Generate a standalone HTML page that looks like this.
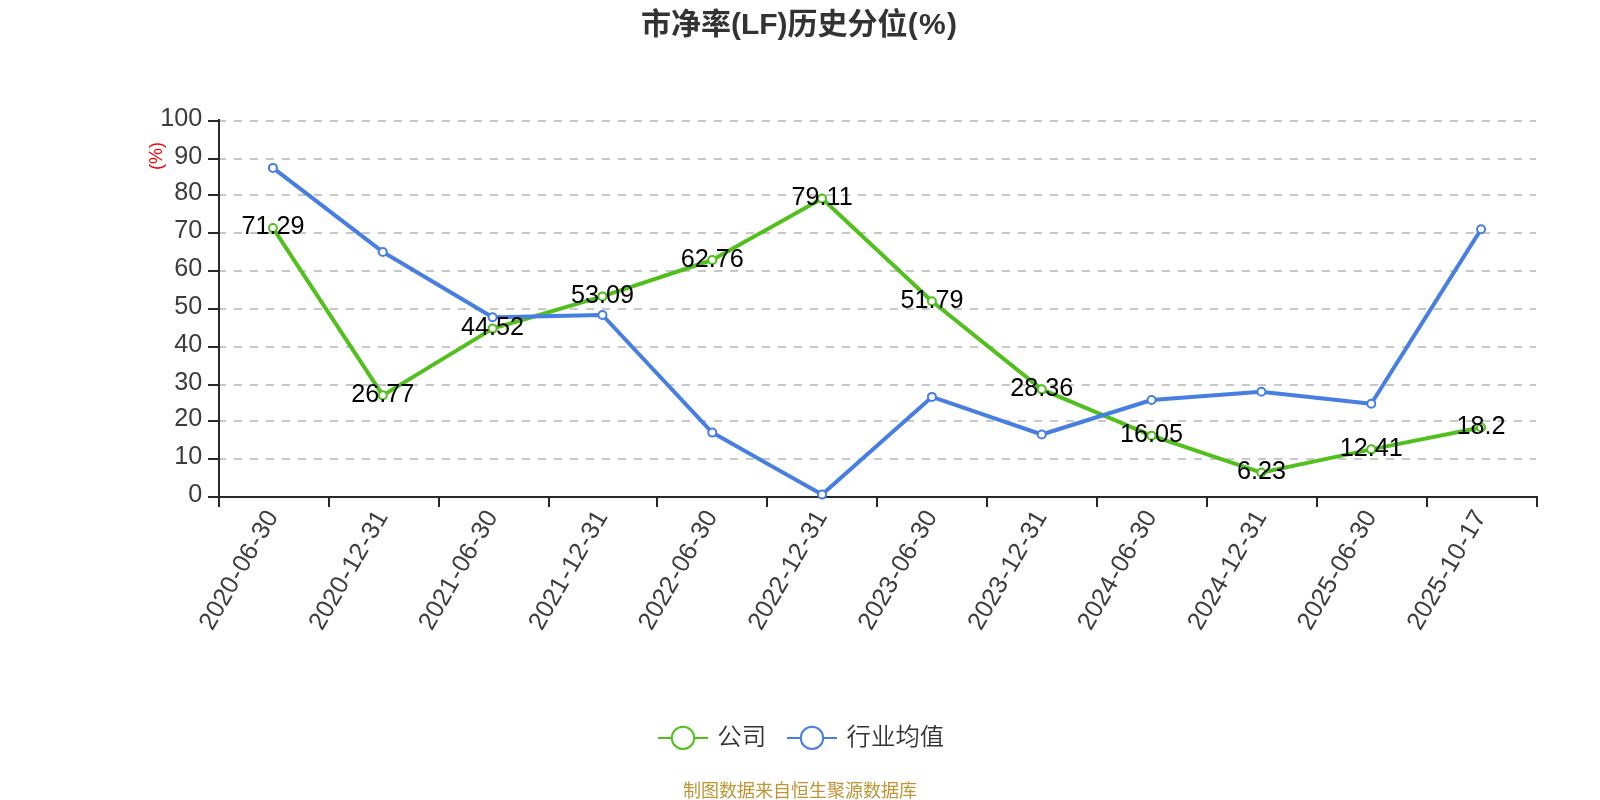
<!DOCTYPE html>
<html lang="zh-CN"><head><meta charset="utf-8"><title>市净率(LF)历史分位(%)</title>
<style>html,body{margin:0;padding:0;background:#fff;}body{width:1600px;height:800px;overflow:hidden;}svg{display:block;will-change:transform;}text{font-family:"Liberation Sans", "Noto Sans CJK SC", sans-serif;}</style></head><body>
<svg width="1600" height="800" viewBox="0 0 1600 800">
<rect x="0" y="0" width="1600" height="800" fill="#ffffff"/>
<text x="799.6" y="33.7" text-anchor="middle" font-size="30" font-weight="bold" fill="#333333">市净率(LF)历史分位<tspan letter-spacing="1.3">(%)</tspan></text>
<g stroke="#c8c8c8" stroke-width="2" stroke-dasharray="8 8" fill="none">
<line x1="218" y1="459" x2="1536" y2="459"/>
<line x1="218" y1="421" x2="1536" y2="421"/>
<line x1="218" y1="385" x2="1536" y2="385"/>
<line x1="218" y1="347" x2="1536" y2="347"/>
<line x1="218" y1="309" x2="1536" y2="309"/>
<line x1="218" y1="271" x2="1536" y2="271"/>
<line x1="218" y1="233" x2="1536" y2="233"/>
<line x1="218" y1="195" x2="1536" y2="195"/>
<line x1="218" y1="159" x2="1536" y2="159"/>
<line x1="218" y1="121" x2="1536" y2="121"/>
</g>
<g stroke="#282828" stroke-width="2" fill="none">
<line x1="219" y1="119" x2="219" y2="498"/>
<line x1="218" y1="497" x2="1538" y2="497"/>
<line x1="208" y1="121" x2="219" y2="121"/>
<line x1="208" y1="159" x2="219" y2="159"/>
<line x1="208" y1="195" x2="219" y2="195"/>
<line x1="208" y1="233" x2="219" y2="233"/>
<line x1="208" y1="271" x2="219" y2="271"/>
<line x1="208" y1="309" x2="219" y2="309"/>
<line x1="208" y1="347" x2="219" y2="347"/>
<line x1="208" y1="385" x2="219" y2="385"/>
<line x1="208" y1="421" x2="219" y2="421"/>
<line x1="208" y1="459" x2="219" y2="459"/>
<line x1="208" y1="497" x2="219" y2="497"/>
<line x1="219" y1="497" x2="219" y2="507"/>
<line x1="329" y1="497" x2="329" y2="507"/>
<line x1="439" y1="497" x2="439" y2="507"/>
<line x1="549" y1="497" x2="549" y2="507"/>
<line x1="657" y1="497" x2="657" y2="507"/>
<line x1="767" y1="497" x2="767" y2="507"/>
<line x1="877" y1="497" x2="877" y2="507"/>
<line x1="987" y1="497" x2="987" y2="507"/>
<line x1="1097" y1="497" x2="1097" y2="507"/>
<line x1="1207" y1="497" x2="1207" y2="507"/>
<line x1="1317" y1="497" x2="1317" y2="507"/>
<line x1="1427" y1="497" x2="1427" y2="507"/>
<line x1="1537" y1="497" x2="1537" y2="507"/>
</g>
<g font-size="25.2" fill="#3c3c3c" text-anchor="end">
<text x="202.3" y="126.0">100</text>
<text x="202.3" y="164.0">90</text>
<text x="202.3" y="200.0">80</text>
<text x="202.3" y="238.0">70</text>
<text x="202.3" y="276.0">60</text>
<text x="202.3" y="314.0">50</text>
<text x="202.3" y="352.0">40</text>
<text x="202.3" y="390.0">30</text>
<text x="202.3" y="426.0">20</text>
<text x="202.3" y="464.0">10</text>
<text x="202.3" y="502.0">0</text>
</g>
<text transform="translate(156,156) rotate(-90)" x="0" y="6.0" text-anchor="middle" font-size="18" fill="#ff0000">(%)</text>
<g font-size="25.2" fill="#3c3c3c" text-anchor="end">
<text transform="translate(272.92,513) rotate(-60)" x="0" y="6.6">2020<tspan dx="1.0">-</tspan><tspan dx="1.0">06</tspan><tspan dx="1.0">-</tspan><tspan dx="1.0">30</tspan></text>
<text transform="translate(382.75,513) rotate(-60)" x="0" y="6.6">2020<tspan dx="1.0">-</tspan><tspan dx="1.0">12</tspan><tspan dx="1.0">-</tspan><tspan dx="1.0">31</tspan></text>
<text transform="translate(492.58,513) rotate(-60)" x="0" y="6.6">2021<tspan dx="1.0">-</tspan><tspan dx="1.0">06</tspan><tspan dx="1.0">-</tspan><tspan dx="1.0">30</tspan></text>
<text transform="translate(602.42,513) rotate(-60)" x="0" y="6.6">2021<tspan dx="1.0">-</tspan><tspan dx="1.0">12</tspan><tspan dx="1.0">-</tspan><tspan dx="1.0">31</tspan></text>
<text transform="translate(712.25,513) rotate(-60)" x="0" y="6.6">2022<tspan dx="1.0">-</tspan><tspan dx="1.0">06</tspan><tspan dx="1.0">-</tspan><tspan dx="1.0">30</tspan></text>
<text transform="translate(822.08,513) rotate(-60)" x="0" y="6.6">2022<tspan dx="1.0">-</tspan><tspan dx="1.0">12</tspan><tspan dx="1.0">-</tspan><tspan dx="1.0">31</tspan></text>
<text transform="translate(931.92,513) rotate(-60)" x="0" y="6.6">2023<tspan dx="1.0">-</tspan><tspan dx="1.0">06</tspan><tspan dx="1.0">-</tspan><tspan dx="1.0">30</tspan></text>
<text transform="translate(1041.75,513) rotate(-60)" x="0" y="6.6">2023<tspan dx="1.0">-</tspan><tspan dx="1.0">12</tspan><tspan dx="1.0">-</tspan><tspan dx="1.0">31</tspan></text>
<text transform="translate(1151.58,513) rotate(-60)" x="0" y="6.6">2024<tspan dx="1.0">-</tspan><tspan dx="1.0">06</tspan><tspan dx="1.0">-</tspan><tspan dx="1.0">30</tspan></text>
<text transform="translate(1261.42,513) rotate(-60)" x="0" y="6.6">2024<tspan dx="1.0">-</tspan><tspan dx="1.0">12</tspan><tspan dx="1.0">-</tspan><tspan dx="1.0">31</tspan></text>
<text transform="translate(1371.25,513) rotate(-60)" x="0" y="6.6">2025<tspan dx="1.0">-</tspan><tspan dx="1.0">06</tspan><tspan dx="1.0">-</tspan><tspan dx="1.0">30</tspan></text>
<text transform="translate(1481.08,513) rotate(-60)" x="0" y="6.6">2025<tspan dx="1.0">-</tspan><tspan dx="1.0">10</tspan><tspan dx="1.0">-</tspan><tspan dx="1.0">17</tspan></text>
</g>
<polyline points="272.92,227.95 382.75,395.34 492.58,328.60 602.42,296.38 712.25,260.02 822.08,198.55 931.92,301.27 1041.75,389.37 1151.58,435.65 1261.42,472.58 1371.25,449.34 1481.08,427.57" fill="none" stroke="#52c01c" stroke-width="4" stroke-linejoin="bevel"/>
<g fill="#ffffff" stroke="#52c01c" stroke-width="2">
<circle cx="272.92" cy="227.95" r="4"/>
<circle cx="382.75" cy="395.34" r="4"/>
<circle cx="492.58" cy="328.60" r="4"/>
<circle cx="602.42" cy="296.38" r="4"/>
<circle cx="712.25" cy="260.02" r="4"/>
<circle cx="822.08" cy="198.55" r="4"/>
<circle cx="931.92" cy="301.27" r="4"/>
<circle cx="1041.75" cy="389.37" r="4"/>
<circle cx="1151.58" cy="435.65" r="4"/>
<circle cx="1261.42" cy="472.58" r="4"/>
<circle cx="1371.25" cy="449.34" r="4"/>
<circle cx="1481.08" cy="427.57" r="4"/>
</g>
<polyline points="272.92,167.90 382.75,251.90 492.58,317.25 602.42,315.00 712.25,432.60 822.08,494.60 931.92,396.90 1041.75,434.50 1151.58,400.00 1261.42,391.80 1371.25,403.80 1481.08,229.20" fill="none" stroke="#477ee1" stroke-width="4" stroke-linejoin="bevel"/>
<g fill="#ffffff" stroke="#477ee1" stroke-width="2">
<circle cx="272.92" cy="167.90" r="4"/>
<circle cx="382.75" cy="251.90" r="4"/>
<circle cx="492.58" cy="317.25" r="4"/>
<circle cx="602.42" cy="315.00" r="4"/>
<circle cx="712.25" cy="432.60" r="4"/>
<circle cx="822.08" cy="494.60" r="4"/>
<circle cx="931.92" cy="396.90" r="4"/>
<circle cx="1041.75" cy="434.50" r="4"/>
<circle cx="1151.58" cy="400.00" r="4"/>
<circle cx="1261.42" cy="391.80" r="4"/>
<circle cx="1371.25" cy="403.80" r="4"/>
<circle cx="1481.08" cy="229.20" r="4"/>
</g>
<g font-size="25.2" fill="#000000" text-anchor="middle">
<text x="272.92" y="234.45">71.29</text>
<text x="382.75" y="401.84">26.77</text>
<text x="492.58" y="335.10">44.52</text>
<text x="602.42" y="302.88">53.09</text>
<text x="712.25" y="266.52">62.76</text>
<text x="822.08" y="205.05">79.11</text>
<text x="931.92" y="307.77">51.79</text>
<text x="1041.75" y="395.87">28.36</text>
<text x="1151.58" y="442.15">16.05</text>
<text x="1261.42" y="479.08">6.23</text>
<text x="1371.25" y="455.84">12.41</text>
<text x="1481.08" y="434.07">18.2</text>
</g>
<line x1="658" y1="737.9" x2="708" y2="737.9" stroke="#52c01c" stroke-width="2"/>
<circle cx="683" cy="737.9" r="11.2" fill="#ffffff" stroke="#52c01c" stroke-width="2"/>
<text x="717.3" y="744.7" font-size="24.4" font-weight="350" fill="#333333">公司</text>
<line x1="787" y1="737.9" x2="837" y2="737.9" stroke="#477ee1" stroke-width="2"/>
<circle cx="812" cy="737.9" r="11.2" fill="#ffffff" stroke="#477ee1" stroke-width="2"/>
<text x="846.6" y="744.7" font-size="24.4" font-weight="350" fill="#333333">行业均值</text>
<text x="800" y="797.3" text-anchor="middle" font-size="18" fill="#bf9434">制图数据来自恒生聚源数据库</text>
</svg></body></html>
